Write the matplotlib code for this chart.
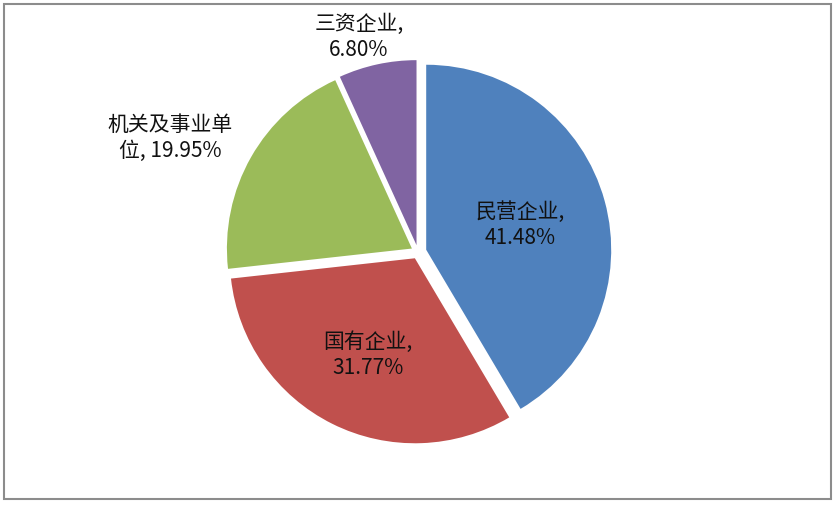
import matplotlib
matplotlib.use("Agg")
import matplotlib.pyplot as plt
from matplotlib.patches import Rectangle

plt.rcParams['font.family'] = ['Noto Sans CJK SC', 'DejaVu Sans']

# 数据
names = ['民营企业', '国有企业', '机关及事业单位', '三资企业']
values = [41.48, 31.77, 19.95, 6.80]
label_text = ['民营企业,\n41.48%', '国有企业,\n31.77%', '机关及事业单\n位, 19.95%', '三资企业,\n6.80%']
colors = ['#4F81BD', '#C0504D', '#9BBB59', '#8064A2']

W, H = 837, 505
# label centres in pixel coords (from top-left)
label_xy = [(520, 225), (368, 355), (170, 138), (359, 37)]

fig = plt.figure(figsize=(W / 100, H / 100), dpi=100)
ax = fig.add_axes([0, 0, 1, 1])

# explode is in data units here (1 unit = 1 px)
ax.pie(values, colors=colors, startangle=90, counterclock=False,
       explode=[8.5, 7, 7, 7], center=(418, H - 252), radius=185,
       wedgeprops=dict(linewidth=0))

for txt, (px, py) in zip(label_text, label_xy):
    ax.text(px, H - py, txt, ha='center', va='center', fontsize=15,
            color='#111111', linespacing=1.2)

ax.add_patch(Rectangle((4, H - 499), 827, 495, fill=False,
                       edgecolor='#8c8c8c', linewidth=1.5))

ax.set_xlim(0, W)
ax.set_ylim(0, H)
ax.set_aspect('equal')
ax.axis('off')

fig.savefig('out.png', dpi=100)
